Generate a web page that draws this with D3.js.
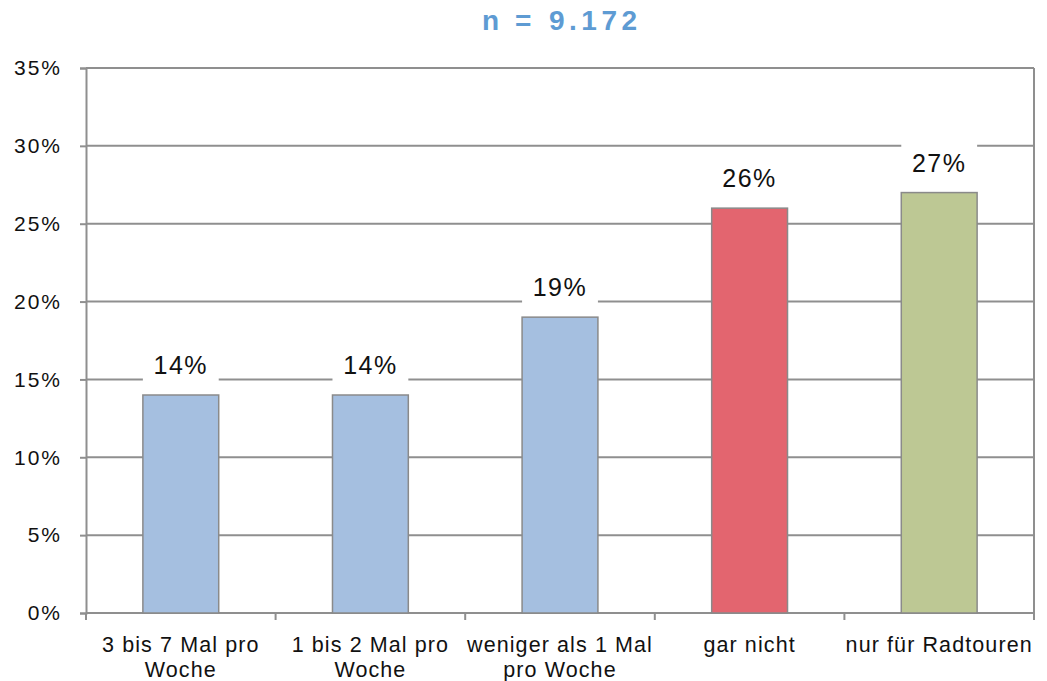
<!DOCTYPE html>
<html>
<head>
<meta charset="utf-8">
<script src="https://cdn.jsdelivr.net/npm/d3@7"></script>
<style>
  html, body { margin: 0; padding: 0; background: #fff; }
  svg { display: block; }
</style>
</head>
<body>
<svg id="chart" width="1047" height="681"></svg>
<script>
// Wie oft wird das Fahrrad genutzt? (Anteile in %)
const categories = [
  ["3 bis 7 Mal pro", "Woche"],
  ["1 bis 2 Mal pro", "Woche"],
  ["weniger als 1 Mal", "pro Woche"],
  ["gar nicht"],
  ["nur für Radtouren"]
];
const values = [14, 14, 19, 26, 27];
const barColors = ["#a5bfe0", "#a5bfe0", "#a5bfe0", "#e3656f", "#bdc894"];
const yTicks = [0, 5, 10, 15, 20, 25, 30, 35];
const titleParts = ["n", "=", "9.172"];

const svg = d3.select("#chart");
const margin = { left: 86, right: 13, top: 68, bottom: 68 };
const W = 1047, H = 681;

const x = d3.scaleBand()
  .domain(d3.range(categories.length))
  .range([margin.left, W - margin.right])
  .padding(0);

const y = d3.scaleLinear()
  .domain([0, 35])
  .range([H - margin.bottom, margin.top]);

const gridColor = "#8f8f8f";
const font = "'Liberation Sans', Arial, sans-serif";

// Title: bold, widely spaced
const titleOffsets = [0, 33, 67];
const tt = svg.append("g")
  .attr("transform", "translate(482,30)")
  .append("text")
  .attr("font-family", font)
  .attr("font-weight", "bold")
  .attr("font-size", 28)
  .attr("fill", "#5e9bd3");
tt.selectAll("tspan")
  .data(titleParts)
  .join("tspan")
  .attr("x", (d, i) => titleOffsets[i])
  .attr("y", 0)
  .attr("letter-spacing", 4.5)
  .text(d => d);

// Horizontal gridlines
svg.append("g")
  .selectAll("line")
  .data(yTicks)
  .join("line")
  .attr("x1", margin.left).attr("x2", W - margin.right)
  .attr("y1", d => y(d)).attr("y2", d => y(d))
  .attr("stroke", gridColor)
  .attr("stroke-width", 2);

// Right frame edge
svg.append("line")
  .attr("x1", W - margin.right).attr("x2", W - margin.right)
  .attr("y1", y(35)).attr("y2", y(0))
  .attr("stroke", gridColor).attr("stroke-width", 2);

// Y axis
const yAxis = d3.axisLeft(y)
  .tickValues(yTicks)
  .tickFormat(d => d + "%")
  .tickSize(6)
  .tickPadding(18);
const gy = svg.append("g")
  .attr("transform", `translate(${margin.left},0)`)
  .call(yAxis);
gy.select(".domain").attr("stroke", gridColor).attr("stroke-width", 2);
gy.selectAll(".tick line").attr("stroke", gridColor).attr("stroke-width", 2);
gy.selectAll(".tick text")
  .attr("font-family", font)
  .attr("font-size", 21)
  .attr("letter-spacing", 2)
  .attr("fill", "#111");

// Category tick marks at band boundaries
const boundaries = d3.range(categories.length + 1).map(i =>
  i < categories.length ? x(i) : x(categories.length - 1) + x.bandwidth());
svg.append("g")
  .selectAll("line")
  .data(boundaries)
  .join("line")
  .attr("x1", d => d).attr("x2", d => d)
  .attr("y1", y(0)).attr("y2", y(0) + 7)
  .attr("stroke", gridColor).attr("stroke-width", 2);

// Category labels
const labels = svg.append("g");
categories.forEach((lines, i) => {
  const cx = x(i) + x.bandwidth() / 2;
  const t = labels.append("text")
    .attr("x", cx)
    .attr("y", 652)
    .attr("text-anchor", "middle")
    .attr("font-family", font)
    .attr("font-size", 21.5)
    .attr("letter-spacing", 1.1)
    .attr("fill", "#111");
  lines.forEach((ln, j) => {
    t.append("tspan")
      .attr("x", cx)
      .attr("dy", j === 0 ? 0 : 25)
      .text(ln);
  });
});

// Bars
const barW = x.bandwidth() * 0.4;
svg.append("g")
  .selectAll("rect")
  .data(values)
  .join("rect")
  .attr("x", (d, i) => x(i) + (x.bandwidth() - barW) / 2)
  .attr("y", d => y(d))
  .attr("width", barW)
  .attr("height", d => y(0) - y(d))
  .attr("fill", (d, i) => barColors[i])
  .attr("stroke", "#8a8a8a")
  .attr("stroke-width", 1.5);

// Value labels on white boxes
const vl = svg.append("g");
values.forEach((v, i) => {
  const cx = x(i) + x.bandwidth() / 2;
  const top = y(v);
  vl.append("rect")
    .attr("x", cx - barW / 2)
    .attr("y", top - 49)
    .attr("width", barW)
    .attr("height", 38)
    .attr("fill", "#fff");
  vl.append("text")
    .attr("x", cx)
    .attr("y", top - 21)
    .attr("text-anchor", "middle")
    .attr("font-family", font)
    .attr("font-size", 25)
    .attr("letter-spacing", 1.5)
    .attr("fill", "#111")
    .text(v + "%");
});
</script>
</body>
</html>
